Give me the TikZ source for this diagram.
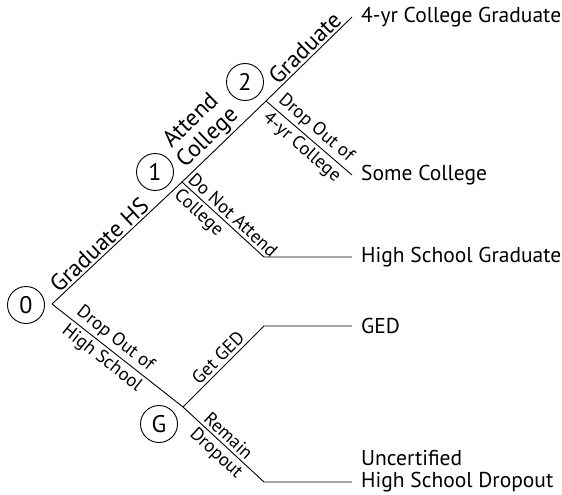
\documentclass[tikz,border=0pt]{standalone}
\usepackage{fontspec}
\setmainfont{PT Sans}
\tikzset{
  state/.style={circle, draw, line width=0.9pt, minimum size=37pt, inner sep=0pt, font=\fontsize{24}{24}\selectfont},
  branch/.style={line width=0.9pt},
  outcome/.style={anchor=west, inner xsep=9pt, inner ysep=0pt, font=\fontsize{21.5}{21.5}\selectfont, align=left},
  biglab/.style={sloped, above, inner sep=2pt, font=\fontsize{23.5}{24}\selectfont},
  smalllab/.style={sloped, inner xsep=1pt, inner ysep=3pt, font=\fontsize{18.5}{19}\selectfont},
}
\begin{document}
\begin{tikzpicture}[x=1pt, y=-1pt]
        \useasboundingbox (0,0) rectangle (562,495);
        % Branch points
        \coordinate (v0) at (52,304);
        \coordinate (b1) at (182,182);
        \coordinate (b2) at (266,101);
        \coordinate (bg) at (183,407);
        \coordinate (k1) at (264,257);
        \coordinate (k2) at (264,326);
        \coordinate (k3) at (264,482);
        
        % States
        \node[state] (n0) at (26,305) {0};
        \node[state] (n1) at (155,172) {1};
        \node[state] (n2) at (245,82) {2};
        \node[state] (ng) at (159,424) {G};
        
        % Outcomes
        \node[outcome] (cg) at (352,17) {4-yr College Graduate};
        \node[outcome] (sc) at (352,175) {Some College};
        \node[outcome] (hsg) at (352,257) {High School Graduate};
        \node[outcome] (ged) at (352,326) {GED};
        \node[outcome] (hsd) at (352,471) {Uncertified\\High School Dropout};
        
        % Graduate high school
        \draw[branch] (v0) -- node[biglab, pos=0.42] {Graduate HS} (b1);
        \draw[branch] (b1) -- node[biglab, pos=0.42, align=center] {Attend\\College} (b2);
        \draw[branch] (b2) -- node[biglab, pos=0.54] {Graduate} (cg.west);
        \draw[branch] (b2) -- node[smalllab, pos=0.07, anchor=south west] {Drop Out of}
                node[smalllab, pos=0.07, anchor=north west] {4-yr College} (sc.west);
        \draw[branch] (b1) -- node[smalllab, pos=0.02, anchor=south west] {Do Not Attend}
                node[smalllab, pos=0.02, anchor=north west] {College} (k1) -- (hsg.west);
        
        % Drop out of high school
        \draw[branch] (v0) -- node[smalllab, pos=0.14, anchor=south west] {Drop Out of}
                node[smalllab, pos=0.14, anchor=north west] {High School} (bg);
        \draw[branch] (bg) -- node[smalllab, pos=0.52, above] {Get GED} (k2) -- (ged.west);
        \draw[branch] (bg) -- node[smalllab, pos=0.2, anchor=south west] {Remain}
                node[smalllab, pos=0.2, anchor=north west] {Dropout} (k3) -- (k3 -| hsd.west);
    \end{tikzpicture}
\end{document}
